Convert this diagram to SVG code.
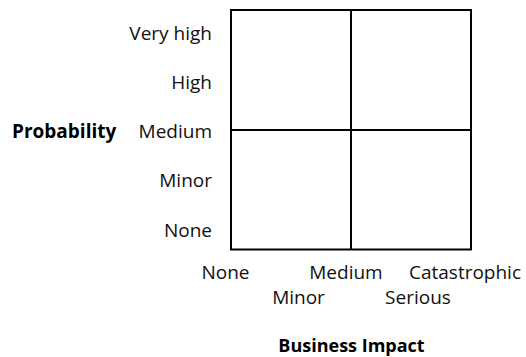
<svg xmlns="http://www.w3.org/2000/svg" width="526" height="357" viewBox="0 0 526 357">
<style>
.t{font-family:"Open Sans","DejaVu Sans",sans-serif;font-size:19px;fill:#111}
.b{font-family:"Open Sans","DejaVu Sans",sans-serif;font-size:19px;font-weight:bold;fill:#000}
.g{fill:none;stroke:#000;stroke-width:2}
</style>
<rect width="526" height="357" fill="#fff"/>
<g id="grid">
<rect class="g" x="231" y="10" width="240" height="239.5"/>
<line class="g" x1="351" y1="10" x2="351" y2="249.5"/>
<line class="g" x1="231" y1="130" x2="471" y2="130"/>
</g>
<g id="y-labels" text-anchor="end">
<text class="t" x="212" y="40">Very high</text>
<text class="t" x="212" y="89">High</text>
<text class="t" x="212" y="138">Medium</text>
<text class="t" x="212" y="187">Minor</text>
<text class="t" x="212" y="237">None</text>
</g>
<text id="ytitle" class="b" x="12" y="138">Probability</text>
<g id="x-labels" text-anchor="middle">
<text class="t" x="225.5" y="279">None</text>
<text class="t" x="346" y="279">Medium</text>
<text class="t" x="465" y="279">Catastrophic</text>
<text class="t" x="298.5" y="304">Minor</text>
<text class="t" x="418" y="304">Serious</text>
</g>
<text id="xtitle" class="b" x="351.5" y="352" text-anchor="middle" style="font-size:18px">Business Impact</text>
</svg>
